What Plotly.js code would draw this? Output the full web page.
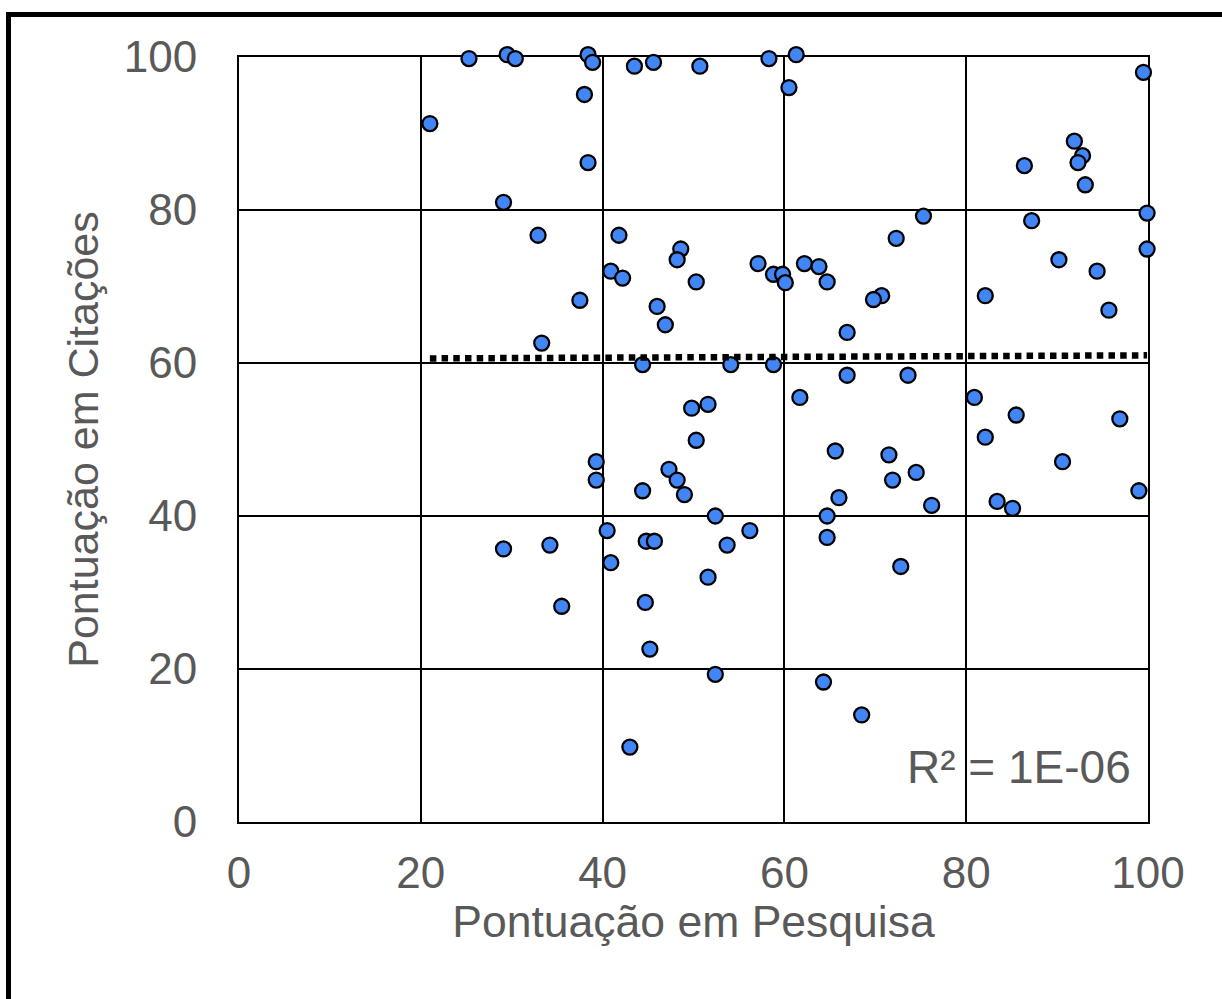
<!DOCTYPE html>
<html>
<head>
<meta charset="utf-8">
<script src="https://cdn.plot.ly/plotly-3.0.1.min.js"></script>
<style>
  html, body { margin: 0; padding: 0; background: #fff; }
  #wrap { position: relative; width: 1222px; height: 999px; overflow: hidden; }
  #chart { position: absolute; left: 0; top: 0; width: 1222px; height: 999px; }
  #frame { position: absolute; left: 6px; top: 12px; right: -10px; bottom: -10px;
           border-left: 5px solid #000; border-top: 5px solid #000; pointer-events: none; }
</style>
</head>
<body>
<div id="wrap">
  <div id="chart"></div>
  <div id="frame"></div>
</div>
<script>
// Pontuação em Pesquisa (x) vs Pontuação em Citações (y)
const pesquisa = [
  21.0, 25.3, 29.5, 30.4, 38.4, 38.9, 38.0, 38.4, 29.1, 32.9,
  33.3, 37.5, 43.5, 45.6, 50.7, 58.3, 61.3, 60.5, 41.8, 48.6,
  48.2, 40.9, 42.2, 50.3, 57.1, 58.8, 59.8, 60.1, 62.2, 63.8,
  64.7, 46.0, 46.9, 44.4, 54.1, 58.8, 99.5, 91.9, 92.8, 92.3,
  86.4, 93.1, 99.9, 87.2, 99.9, 90.2, 94.4, 82.1, 95.7, 75.3,
  72.3, 70.7, 69.8, 66.9, 61.7, 49.8, 51.6, 50.3, 39.3, 39.3,
  47.3, 48.2, 49.0, 44.4, 52.4, 56.2, 40.5, 29.1, 34.2, 44.8,
  45.7, 53.7, 40.9, 51.6, 35.5, 44.7, 45.2, 52.4, 43.0, 66.9,
  73.6, 80.9, 85.5, 96.9, 82.1, 65.6, 71.5, 90.6, 74.5, 71.9,
  66.0, 76.2, 99.0, 83.4, 85.1, 64.7, 64.7, 72.8, 64.3, 68.5
];
const citacoes = [
  91.3, 99.8, 100.3, 99.8, 100.3, 99.3, 95.1, 86.2, 81.0, 76.7,
  62.6, 68.2, 98.8, 99.3, 98.8, 99.8, 100.3, 96.0, 76.7, 74.9,
  73.5, 72.0, 71.1, 70.6, 73.0, 71.6, 71.6, 70.5, 73.0, 72.6,
  70.6, 67.4, 65.0, 59.8, 59.8, 59.8, 98.0, 89.0, 87.1, 86.2,
  85.8, 83.3, 79.6, 78.6, 74.9, 73.5, 72.0, 68.8, 66.9, 79.2,
  76.3, 68.8, 68.3, 64.0, 55.5, 54.1, 54.6, 49.9, 47.1, 44.7,
  46.1, 44.7, 42.8, 43.3, 40.0, 38.1, 38.1, 35.7, 36.2, 36.7,
  36.7, 36.2, 33.9, 32.0, 28.2, 28.7, 22.6, 19.3, 9.8, 58.4,
  58.4, 55.5, 53.2, 52.7, 50.3, 48.5, 48.0, 47.1, 45.7, 44.7,
  42.4, 41.4, 43.3, 41.9, 41.0, 40.0, 37.2, 33.4, 18.3, 14.0
];
// Linear trendline endpoints
const trendX = [21.0, 99.9];
const trendY = [60.6, 61.0];
const r2Label = "R² = 1E-06";
const tickVals = [0, 20, 40, 60, 80, 100];
const tickText = ["0", "20", "40", "60", "80", "100"];
const xTitle = "Pontuação em Pesquisa";
const yTitle = "Pontuação em Citações";

const fontFam = "Liberation Sans, Arial, sans-serif";
const grey = "#595959";

// geometry: visible grid axes occupy the lower part of the paper area,
// an invisible overlay axis pair (x2/y2) spans a little more so that markers
// sitting on the 100 line are not hidden.
const topMargin = 40, bottomMargin = 177;
const paperH = 999 - topMargin - bottomMargin;      // 782
const gridH = 822 - 57;                              // 765 px for 0..100
const gridTop = gridH / paperH;

const traces = [
  {
    x: pesquisa, y: citacoes, type: "scatter", mode: "markers",
    xaxis: "x2", yaxis: "y2",
    cliponaxis: false,
    marker: { size: 15, color: "#4285F4", line: { color: "#000", width: 2.3 } },
    hoverinfo: "x+y"
  },
  {
    x: trendX, y: trendY, type: "scatter", mode: "lines",
    xaxis: "x2", yaxis: "y2",
    cliponaxis: false,
    line: { color: "#000", width: 6.5, dash: "6.5px,5.2px" },
    hoverinfo: "skip"
  }
];

const axisCommon = {
  range: [0, 100],
  tickvals: tickVals,
  ticktext: tickText,
  showgrid: true,
  gridcolor: "#000",
  gridwidth: 2,
  showline: true,
  linecolor: "#000",
  linewidth: 2,
  mirror: true,
  zeroline: false,
  ticks: "",
  tickfont: { family: fontFam, size: 44, color: grey },
  fixedrange: true
};

const layout = {
  width: 1222,
  height: 999,
  margin: { l: 239, r: 74, t: topMargin, b: bottomMargin, pad: 0 },
  paper_bgcolor: "#fff",
  plot_bgcolor: "rgba(0,0,0,0)",
  showlegend: false,
  xaxis: Object.assign({}, axisCommon, {
    domain: [0, 1],
    anchor: "y",
    ticklabelstandoff: 11,
    title: { text: xTitle, font: { family: fontFam, size: 44.5, color: grey }, standoff: 10 }
  }),
  yaxis: Object.assign({}, axisCommon, {
    domain: [0, gridTop],
    anchor: "x",
    ticklabelstandoff: 31,
    title: { text: yTitle, font: { family: fontFam, size: 43, color: grey }, standoff: 12 }
  }),
  xaxis2: {
    domain: [0, 1], anchor: "y2", range: [0, 100],
    visible: false, showgrid: false, zeroline: false, fixedrange: true
  },
  yaxis2: {
    domain: [0, 1], anchor: "x2", range: [0, 100 / gridTop],
    visible: false, showgrid: false, zeroline: false, fixedrange: true
  },
  annotations: [
    {
      x: 98.3, y: 7.2, xref: "x", yref: "y",
      text: r2Label, showarrow: false,
      xanchor: "right", yanchor: "middle",
      font: { family: fontFam, size: 46, color: grey }
    }
  ]
};

Plotly.newPlot("chart", traces, layout, { displayModeBar: false, staticPlot: true });
</script>
</body>
</html>
